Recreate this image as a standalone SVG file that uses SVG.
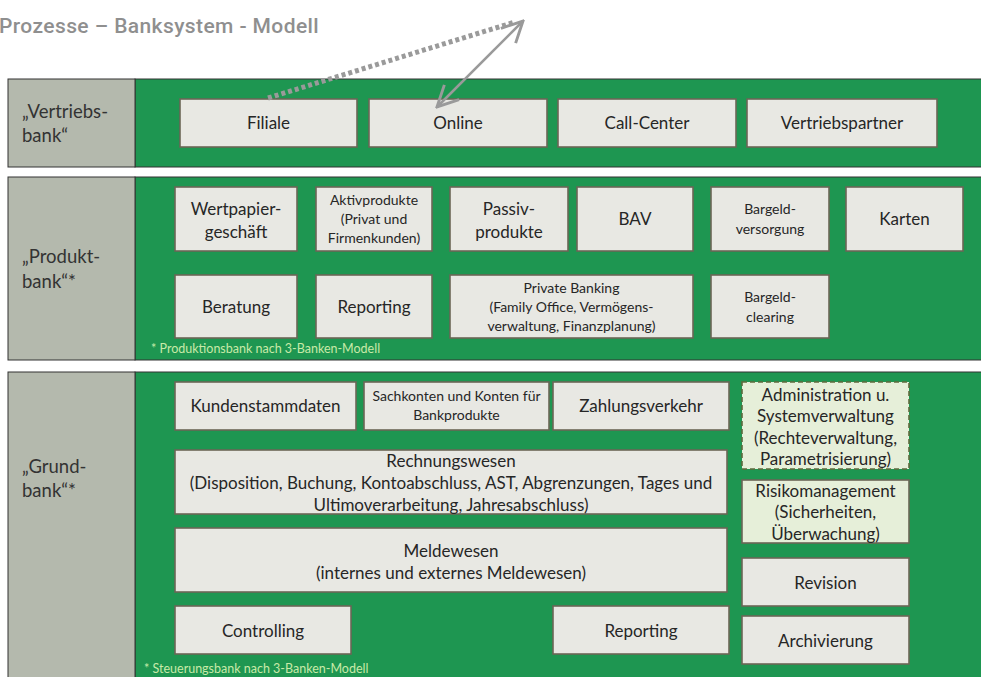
<svg xmlns="http://www.w3.org/2000/svg" width="981" height="677" viewBox="0 0 981 677">
  <style>
    .band-label { fill: #b4b9ad; stroke: #333; stroke-width: 1; }
    .band-body { fill: #1e9651; stroke: #333; stroke-width: 1; }
    .box { fill: #e8e8e3; stroke: #6b6656; stroke-width: 1.6; }
    .box-lite { fill: #e6efd9; stroke: #6b6656; stroke-width: 1.6; }
    .box-dash { fill: #e6efd9; stroke: #5d6b3c; stroke-width: 1.6; stroke-dasharray: 5 3; }
    text { font-family: Lato, "Liberation Sans", sans-serif; fill: #262626; }
    .t { font-size: 17px; text-anchor: middle; }
    .s { font-size: 14px; text-anchor: middle; }
    .lbl { font-size: 18.5px; fill: #333; }
    .note { font-size: 12.5px; fill: #c8eaa8; }
    .title { font-family: Roboto, "Liberation Sans", sans-serif; font-size: 21px; font-weight: 500; letter-spacing: 0.4px; fill: #8f8f8f; }
    .conn { fill: none; stroke: #9a9a9a; }
  </style>
  <defs>
    <marker id="open-arrow" viewBox="0 0 12 12" refX="11" refY="6" markerWidth="10" markerHeight="10" orient="auto-start-reverse" markerUnits="strokeWidth">
      <path d="M1,1 L11,6 L1,11" fill="none" stroke="#9a9a9a" stroke-width="1.4" stroke-linejoin="miter"/>
    </marker>
  </defs>

  <rect width="981" height="677" fill="#ffffff"/>

  <text class="title" x="-1" y="33">Prozesse – Banksystem - Modell</text>

  <!-- Bands -->
  <g id="band-vertrieb">
    <rect class="band-body" x="135" y="79" width="860" height="88"/>
    <rect class="band-label" x="8" y="79" width="127" height="88"/>
    <text class="lbl" x="22" y="118">„Vertriebs-</text>
    <text class="lbl" x="22" y="142">bank“</text>
  </g>
  <g id="band-produkt">
    <rect class="band-body" x="135" y="177" width="860" height="183"/>
    <rect class="band-label" x="8" y="177" width="127" height="183"/>
    <text class="lbl" x="22" y="263">„Produkt-</text>
    <text class="lbl" x="22" y="288">bank“*</text>
    <text class="note" x="151" y="353">* Produktionsbank nach 3-Banken-Modell</text>
  </g>
  <g id="band-grund">
    <rect class="band-body" x="135" y="372" width="860" height="315"/>
    <rect class="band-label" x="8" y="372" width="127" height="315"/>
    <text class="lbl" x="22" y="473">„Grund-</text>
    <text class="lbl" x="22" y="497">bank“*</text>
    <text class="note" x="144" y="673">* Steuerungsbank nach 3-Banken-Modell</text>
  </g>

  <!-- Vertriebsbank -->
  <g id="filiale"><rect class="box" x="180" y="99" width="177" height="48"/><text class="t" x="268.5" y="129">Filiale</text></g>
  <g id="online"><rect class="box" x="369" y="99" width="178" height="48"/><text class="t" x="458" y="129">Online</text></g>
  <g id="call-center"><rect class="box" x="558" y="99" width="178" height="48"/><text class="t" x="647" y="129">Call-Center</text></g>
  <g id="vertriebspartner"><rect class="box" x="747" y="99" width="190" height="48"/><text class="t" x="842" y="129">Vertriebspartner</text></g>

  <!-- Produktbank -->
  <g id="wertpapier"><rect class="box" x="175" y="187" width="122" height="64"/><text class="t" x="236" y="215">Wertpapier-</text><text class="t" x="236" y="238">geschäft</text></g>
  <g id="aktivprodukte"><rect class="box" x="316" y="187" width="116" height="64"/><text class="s" x="374" y="205">Aktivprodukte</text><text class="s" x="374" y="224">(Privat und</text><text class="s" x="374" y="243">Firmenkunden)</text></g>
  <g id="passivprodukte"><rect class="box" x="450" y="187" width="118" height="64"/><text class="t" x="509" y="215">Passiv-</text><text class="t" x="509" y="238">produkte</text></g>
  <g id="bav"><rect class="box" x="577" y="187" width="116" height="64"/><text class="t" x="635" y="225">BAV</text></g>
  <g id="bargeldversorgung"><rect class="box" x="711" y="187" width="118" height="64"/><text class="s" x="770" y="214">Bargeld-</text><text class="s" x="770" y="234">versorgung</text></g>
  <g id="karten"><rect class="box" x="846" y="187" width="117" height="64"/><text class="t" x="904.5" y="225">Karten</text></g>
  <g id="beratung"><rect class="box" x="175" y="275" width="122" height="63"/><text class="t" x="236" y="313">Beratung</text></g>
  <g id="reporting-produkt"><rect class="box" x="316" y="275" width="116" height="63"/><text class="t" x="374" y="313">Reporting</text></g>
  <g id="private-banking"><rect class="box" x="450" y="275" width="243" height="63"/><text class="s" x="571.5" y="293">Private Banking</text><text class="s" x="571.5" y="312">(Family Office, Vermögens-</text><text class="s" x="571.5" y="331">verwaltung, Finanzplanung)</text></g>
  <g id="bargeldclearing"><rect class="box" x="711" y="275" width="118" height="63"/><text class="s" x="770" y="302">Bargeld-</text><text class="s" x="770" y="322">clearing</text></g>

  <!-- Grundbank -->
  <g id="kundenstammdaten"><rect class="box" x="175" y="382" width="181" height="48"/><text class="t" x="265.5" y="412">Kundenstammdaten</text></g>
  <g id="sachkonten"><rect class="box" x="364" y="382" width="185" height="48"/><text class="s" x="456.5" y="401">Sachkonten und Konten für</text><text class="s" x="456.5" y="420">Bankprodukte</text></g>
  <g id="zahlungsverkehr"><rect class="box" x="553" y="382" width="176" height="48"/><text class="t" x="641" y="412">Zahlungsverkehr</text></g>
  <g id="rechnungswesen"><rect class="box" x="175" y="450" width="552" height="64"/><text class="t" x="451" y="467">Rechnungswesen</text><text class="t" x="451" y="489">(Disposition, Buchung, Kontoabschluss, AST, Abgrenzungen, Tages und</text><text class="t" x="451" y="511">Ultimoverarbeitung, Jahresabschluss)</text></g>
  <g id="meldewesen"><rect class="box" x="175" y="528" width="552" height="64"/><text class="t" x="451" y="557">Meldewesen</text><text class="t" x="451" y="579">(internes und externes Meldewesen)</text></g>
  <g id="controlling"><rect class="box" x="175" y="606" width="176" height="48"/><text class="t" x="263" y="637">Controlling</text></g>
  <g id="reporting-grund"><rect class="box" x="553" y="606" width="176" height="48"/><text class="t" x="641" y="637">Reporting</text></g>
  <g id="administration"><rect class="box-dash" x="742" y="382" width="167" height="87"/><text class="t" x="825.5" y="401">Administration u.</text><text class="t" x="825.5" y="422">Systemverwaltung</text><text class="t" x="825.5" y="444">(Rechteverwaltung,</text><text class="t" x="825.5" y="465">Parametrisierung)</text></g>
  <g id="risikomanagement"><rect class="box-lite" x="742" y="480" width="167" height="63"/><text class="t" x="825.5" y="497">Risikomanagement</text><text class="t" x="825.5" y="518">(Sicherheiten,</text><text class="t" x="825.5" y="540">Überwachung)</text></g>
  <g id="revision"><rect class="box" x="742" y="558" width="167" height="48"/><text class="t" x="825.5" y="589">Revision</text></g>
  <g id="archivierung"><rect class="box" x="742" y="616" width="167" height="48"/><text class="t" x="825.5" y="647">Archivierung</text></g>

  <!-- Connectors -->
  <g id="connectors">
    <line class="conn" x1="268" y1="98" x2="515" y2="22" stroke-width="5" stroke-dasharray="4 3"/>
    <line class="conn" x1="437" y1="107" x2="523" y2="21" stroke-width="2.5" marker-start="url(#open-arrow)" marker-end="url(#open-arrow)"/>
  </g>
</svg>
